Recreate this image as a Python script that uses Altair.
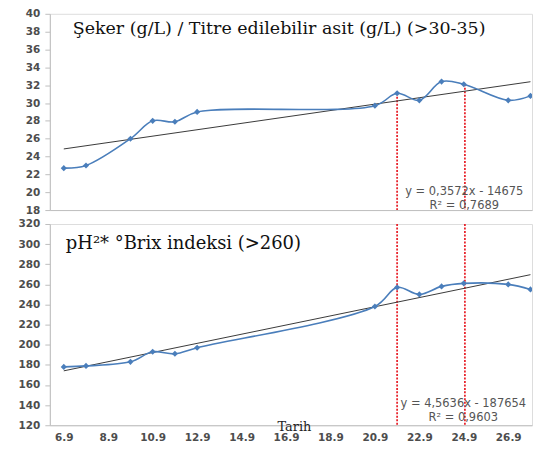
import altair as alt
import pandas as pd

# ---- data ----
days = [6, 7, 9, 10, 11, 12, 20, 21, 22, 23, 24, 26, 27]          # day of September
sugar_acid = [22.7, 23.0, 26.0, 28.0, 27.9, 29.0, 29.7, 31.1, 30.3, 32.4, 32.1, 30.3, 30.8]
ph_brix = [178, 179, 183, 193, 191, 197, 238, 257, 250, 258, 261, 260, 255]
tick_days = [6, 8, 10, 12, 14, 16, 18, 20, 22, 24, 26]
red_days = [21.0, 24.05]
red_top_vals = [31.1, 32.1]
title_top = "Şeker (g/L) / Titre edilebilir asit (g/L) (>30-35)"
title_bottom = "pH²* °Brix indeksi (>260)"
eq_top = "y = 0,3572x - 14675\nR² = 0,7689"
eq_bottom = "y = 4,5636x - 187654\nR² = 0,9603"

BLUE = "#4A7EBB"
RED = "#E8262E"
GRAY_AX = "#BFBFBF"
LABEL_FONT = "DejaVu Sans"
SERIF = "DejaVu Serif"

df = pd.DataFrame({"day": days, "sa": sugar_acid, "pb": ph_brix})
red = pd.DataFrame({"day": red_days, "top": red_top_vals,
                    "ymin_top": [18, 18], "hi": [320, 320], "lo": [120, 120]})

W = 484
H_TOP = 197
H_BOT = 202
xscale = alt.Scale(domain=[5.372, 27.07], nice=False, zero=False)


def yaxis(vals):
    return alt.Axis(values=vals, tickCount=40, format="d", grid=False, title=None, tickColor=GRAY_AX,
                    domainColor=GRAY_AX, tickSize=5, labelFont=LABEL_FONT,
                    labelFontSize=10.5, labelFontWeight="bold", labelColor="#4D4D4D",
                    labelPadding=5, labelOverlap=False)


x_top_axis = alt.Axis(labels=False, ticks=False, title=None, grid=False, domainColor=GRAY_AX)
x_bot_axis = alt.Axis(values=tick_days, tickCount=40, labelExpr="datum.value + '.9'", ticks=False,
                      grid=False, domainColor=GRAY_AX, labelFont=LABEL_FONT,
                      labelFontSize=10.5, labelFontWeight="bold", labelColor="#4D4D4D",
                      labelPadding=7, labelOverlap=False, title="Tarih", titleFont=SERIF,
                      titleFontSize=13, titleFontWeight="normal", titleColor="#222222",
                      titleX=245, titleY=1, titleBaseline="middle", titleAlign="center")

title_x = {"sa": 23, "pb": 16}
title_y = {"sa": 20, "pb": 25}
title_size = {"sa": 17.5, "pb": 18}
eq_x = {"sa": 416, "pb": 415}
eq_y = {"sa": 179, "pb": 181}


def panel(field, ydom, yvals, xaxis, title_txt, eq_txt, red_y, red_y2, h):
    base = alt.Chart(df)
    x = alt.X("day:Q", scale=xscale, axis=xaxis)
    y = alt.Y(f"{field}:Q", scale=alt.Scale(domain=ydom, nice=False, zero=False), axis=yaxis(yvals))
    line = base.mark_line(color=BLUE, strokeWidth=1.6, interpolate="catmull-rom", clip=True).encode(x=x, y=y)
    pts = base.mark_point(shape="diamond", filled=True, size=38, color=BLUE, opacity=1, clip=True).encode(x=x, y=y)
    trend = base.transform_regression("day", field).mark_line(color="#3A3A3A", strokeWidth=1, clip=True).encode(
        x=alt.X("day:Q"), y=alt.Y(f"{field}:Q"))
    rules = alt.Chart(red).mark_rule(color=RED, strokeDash=[2, 1.5], strokeWidth=1.8).encode(
        x=alt.X("day:Q"), y=alt.Y(f"{red_y}:Q"), y2=alt.Y2(f"{red_y2}:Q"))
    ttl = alt.Chart(pd.DataFrame({"t": [title_txt]})).mark_text(
        align="left", baseline="alphabetic", font=SERIF, fontSize=title_size[field], color="#111111").encode(
        text="t:N", x=alt.value(title_x[field]), y=alt.value(title_y[field]))
    eq = alt.Chart(pd.DataFrame({"t": [eq_txt]})).mark_text(
        align="center", baseline="middle", font="DejaVu Sans", fontSize=11.5, color="#555555",
        lineBreak="\n", lineHeight=14).encode(
        text="t:N", x=alt.value(eq_x[field]), y=alt.value(eq_y[field]))
    return alt.layer(rules, trend, line, pts, ttl, eq).properties(width=W, height=h)


top = panel("sa", [18, 40], list(range(18, 41, 2)), x_top_axis, title_top, eq_top, "top", "ymin_top", H_TOP)
bottom = panel("pb", [120, 320], list(range(120, 321, 20)), x_bot_axis, title_bottom, eq_bottom, "hi", "lo", H_BOT)

chart = alt.vconcat(top, bottom, spacing=2).properties(
    padding={"left": 9, "top": -1, "right": 0, "bottom": 0}
).configure_view(stroke=None).configure(background="white")

chart.save("out.html", embed_options={"renderer": "svg", "actions": False})
